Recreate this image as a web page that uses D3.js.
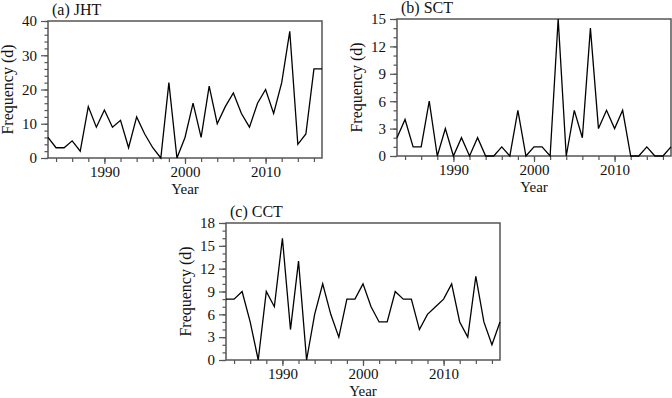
<!DOCTYPE html>
<html>
<head>
<meta charset="utf-8">
<script src="https://cdn.jsdelivr.net/npm/d3@7"></script>
<style>
  body { margin: 0; background: #fff; }
  svg text { font-family: "Liberation Serif", "Times New Roman", serif; fill: #111; }
</style>
</head>
<body>
<svg width="672" height="398"></svg>
<script>
var years = d3.range(1983, 2018);

// annual frequency (days)
var jhtValues = [6, 3, 3, 5, 2, 15, 9, 14, 9, 11, 3, 12, 7, 3, 0, 22, 0, 6, 16, 6,
                 21, 10, 15, 19, 13, 9, 16, 20, 13, 22, 37, 4, 7, 26, 26];
var sctValues = [2, 4, 1, 1, 6, 0, 3, 0, 2, 0, 2, 0, 0, 1, 0, 5, 0, 1, 1, 0,
                 15, 0, 5, 2, 14, 3, 5, 3, 5, 0, 0, 1, 0, 0, 1];
var cctValues = [8, 8, 9, 5, 0, 9, 7, 16, 4, 13, 0, 6, 10, 6, 3, 8, 8, 10, 7, 5,
                 5, 9, 8, 8, 4, 6, 7, 8, 10, 5, 3, 11, 5, 2, 5];

var xMajor = [1990, 2000, 2010];
var xMinor = d3.range(1984, 2018, 2);

var panels = [
  {title: "(a) JHT", values: jhtValues, left: 48, top: 21, yMax: 40, yMajor: [0, 10, 20, 30, 40], yStep: 2},
  {title: "(b) SCT", values: sctValues, left: 397, top: 19, yMax: 15, yMajor: [0, 3, 6, 9, 12, 15], yStep: 1},
  {title: "(c) CCT", values: cctValues, left: 226, top: 223, yMax: 18, yMajor: [0, 3, 6, 9, 12, 15, 18], yStep: 1}
];

var pw = 274, ph = 137;
var svg = d3.select("svg");
var axisColor = "#555";

panels.forEach(function(p) {
  var g = svg.append("g").attr("transform", "translate(" + p.left + "," + p.top + ")");

  var x = d3.scaleLinear().domain([1983, 2017]).range([0, pw]);
  var y = d3.scaleLinear().domain([0, p.yMax]).range([ph, 0]);

  // frame
  g.append("rect")
    .attr("width", pw).attr("height", ph)
    .attr("fill", "none").attr("stroke", axisColor).attr("stroke-width", 1.5);

  // x ticks
  g.append("g").attr("transform", "translate(0," + ph + ")")
    .call(d3.axisBottom(x).tickValues(xMinor).tickSize(4).tickFormat(""))
    .call(styleAxis);
  g.append("g").attr("transform", "translate(0," + ph + ")")
    .call(d3.axisBottom(x).tickValues(xMajor).tickSize(6).tickPadding(2).tickFormat(d3.format("d")))
    .call(styleAxis);

  // y ticks
  var yMinor = d3.range(0, p.yMax + 0.01, p.yStep);
  g.append("g")
    .call(d3.axisLeft(y).tickValues(yMinor).tickSize(3.5).tickFormat(""))
    .call(styleAxis);
  g.append("g")
    .call(d3.axisLeft(y).tickValues(p.yMajor).tickSize(7).tickPadding(4).tickFormat(d3.format("d")))
    .call(styleAxis);

  // series line
  var line = d3.line()
    .x(function(d, i) { return x(years[i]); })
    .y(function(d) { return y(d); });
  g.append("path")
    .datum(p.values)
    .attr("d", line)
    .attr("fill", "none")
    .attr("stroke", "#000")
    .attr("stroke-width", 1.3);

  // labels
  g.append("text")
    .attr("x", 4).attr("y", -6)
    .style("font-size", "16px")
    .text(p.title);
  g.append("text")
    .attr("x", pw / 2).attr("y", ph + 36)
    .attr("text-anchor", "middle")
    .style("font-size", "15px")
    .text("Year");
  g.append("text")
    .attr("transform", "translate(-35," + (ph / 2) + ") rotate(-90)")
    .attr("text-anchor", "middle")
    .style("font-size", "16px")
    .text("Frequency (d)");
});

function styleAxis(sel) {
  sel.select(".domain").remove();
  sel.selectAll(".tick line").attr("stroke", axisColor).attr("stroke-width", 1.2);
  sel.selectAll(".tick text")
    .style("font-size", "15px")
    .style("font-family", "'Liberation Serif', serif")
    .attr("fill", "#111");
}
</script>
</body>
</html>
